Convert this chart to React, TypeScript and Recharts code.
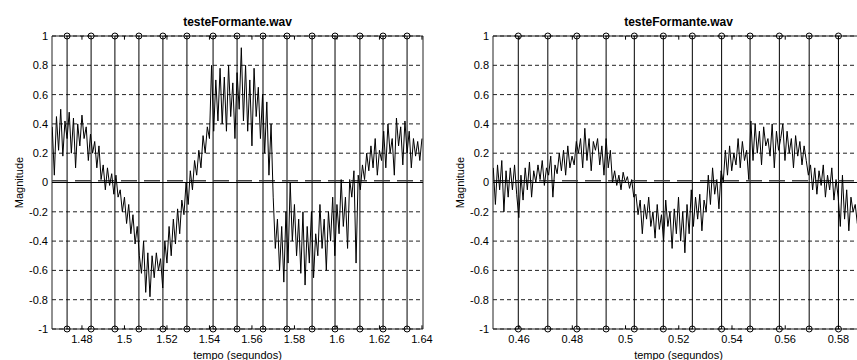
import React from 'react';
import {
  ComposedChart,
  Line,
  Scatter,
  XAxis,
  YAxis,
  CartesianGrid,
  ReferenceLine,
  ReferenceArea,
} from 'recharts';

// left panel: 1.466 s onwards, one sample per ms
const leftStart = 1.466;
const leftStep = 0.001;
const leftValues = [
  0.38, 0.05, 0.45, 0.22, 0.5, 0.18, 0.42, 0.3,
  0.48, 0.2, 0.44, 0.1, 0.4, 0.25, 0.46,
  0.3, 0.38, 0.15, 0.33, 0.2, 0.28, 0.1, 0.25,
  0.02, 0.12, -0.05, 0.1, -0.02, 0.06, -0.08, 0.05, -0.1,
  -0.05, -0.2, -0.1, -0.28, -0.15, -0.35, -0.22, -0.42, -0.3,
  -0.5, -0.62, -0.4, -0.75, -0.48, -0.78,
  -0.5, -0.65, -0.48, -0.6, -0.52, -0.72,
  -0.4, -0.55, -0.3, -0.5, -0.25, -0.42, -0.18, -0.35, -0.12, -0.22, 0.0, -0.15,
  0.08, -0.05, 0.15, 0.05, 0.22, 0.1, 0.32, 0.2, 0.38,
  0.3, 0.8, 0.35, 0.7, 0.42,
  0.78, 0.4, 0.72, 0.35, 0.8, 0.45, 0.68, 0.3, 0.75, 0.5, 0.92,
  0.42, 0.8, 0.35, 0.7, 0.25, 0.78, 0.45, 0.65, 0.3,
  0.6, 0.2, 0.55, 0.05, 0.4,
  -0.1, -0.45, -0.25,
  -0.6, -0.3, -0.68, -0.2, -0.55, 0.0,
  -0.4, -0.15, -0.5, -0.25, -0.62, -0.2,
  -0.7, -0.3, -0.55, -0.2, -0.65, -0.35,
  -0.5, -0.15, -0.45, -0.25, -0.6, -0.2, -0.4, -0.1, -0.5,
  -0.15, -0.35, 0.02, -0.3, -0.1, -0.45,
  0.02, -0.1, 0.08, -0.55, 0.05, -0.05, 0.12,
  0.02, 0.2, 0.08, 0.25, 0.1, 0.3, 0.05, 0.22, 0.15,
  0.35, 0.1, 0.4, 0.2, 0.3, 0.05, 0.44, 0.25, 0.38, 0.12, 0.42, 0.2,
  0.35, 0.1, 0.3, 0.18, 0.28, 0.15, 0.3,
];
const leftStems = [
  1.473, 1.4843, 1.4955, 1.5068, 1.5181, 1.5294, 1.5417, 1.553,
  1.5652, 1.5765, 1.5883, 1.5991, 1.6108, 1.6217, 1.633,
];
const leftTicks = [1.48, 1.5, 1.52, 1.54, 1.56, 1.58, 1.6, 1.62, 1.64];
const leftDomain = [1.4659, 1.6405];

// right panel
const rightStart = 0.4503;
const rightStep = 0.0008;
const rightValues = [
  0.1, -0.15, 0.12, -0.05, 0.15, -0.2, 0.08, -0.1, 0.1,
  -0.05, 0.12, -0.08, -0.24, 0.05, -0.12, 0.1, -0.05, 0.14, -0.1, 0.08,
  0.0, 0.12, 0.02, 0.15, -0.02, 0.1, 0.05, 0.18, -0.1, 0.12, 0.06,
  0.2, 0.08, 0.22, 0.05, 0.25, 0.1, 0.18, 0.12, 0.28,
  0.2, 0.3, 0.1, 0.37, 0.15, 0.3, 0.08, 0.28, 0.22,
  0.3, 0.12, 0.25, 0.05, 0.3, 0.1, 0.22, 0.0,
  0.08, -0.02, 0.05, -0.05, 0.07, 0.0, 0.04, -0.04, 0.02, -0.1,
  -0.08, -0.22, -0.12, -0.35, -0.15, -0.25, -0.1, -0.3,
  -0.2, -0.38, -0.15, -0.32, -0.22, -0.4, -0.12, -0.3, -0.2, -0.45, -0.18, -0.35, -0.1, -0.4,
  -0.2, -0.48, -0.15, -0.35,
  -0.05, -0.3, -0.1, -0.25, -0.08, -0.33, -0.12, -0.2,
  0.05, -0.15, 0.1, -0.08, 0.02, -0.18, 0.08,
  0.0, 0.22, 0.05, 0.25, 0.08, 0.2, 0.12, 0.3, 0.1, 0.28, 0.15, 0.22, 0.02,
  0.42, 0.15, 0.4, 0.2, 0.35, 0.12, 0.38, 0.25, 0.3, 0.18, 0.4, 0.1, 0.35, 0.22,
  0.3, 0.4, 0.15, 0.35, 0.2, 0.3, 0.1, 0.32, 0.18, 0.28, 0.12, 0.25, 0.15,
  0.05, 0.12, -0.05, 0.1, -0.08, 0.08, -0.02, 0.12, -0.1, 0.05, -0.05, 0.1, -0.12, 0.02,
  -0.1, -0.3, 0.05, -0.25, -0.05, -0.33, -0.1, -0.2, -0.15, -0.28, -0.12, -0.18, -0.1,
];
const rightStems = [
  0.4597, 0.4708, 0.4817, 0.4927, 0.5033, 0.5142,
  0.5251, 0.5361, 0.5468, 0.5578, 0.569, 0.58,
];
const rightTicks = [0.46, 0.48, 0.5, 0.52, 0.54, 0.56, 0.58];
const rightDomain = [0.4502, 0.5896];

const yTicks = [-1, -0.8, -0.6, -0.4, -0.2, 0, 0.2, 0.4, 0.6, 0.8, 1];

const FONT = '"Liberation Sans", Arial, sans-serif';

const StemHead = (props: any) => (
  <circle cx={props.cx} cy={props.cy} r={3} fill="none" stroke="#000" strokeWidth={1} />
);

interface PanelProps {
  left: number;
  start: number;
  step: number;
  values: number[];
  stems: number[];
  ticks: number[];
  domain: number[];
}

function Panel({ left, start, step, values, stems, ticks, domain }: PanelProps) {
  const wave = values.map((v, i) => ({ t: start + i * step, v }));
  const heads = stems.flatMap((t) => [{ t, v: 1 }, { t, v: -1 }]);

  return (
    <div style={{ position: 'absolute', left, top: 0 }}>
      <div
        style={{
          position: 'absolute',
          left: 52,
          width: 371,
          top: 15,
          textAlign: 'center',
          fontFamily: FONT,
          fontWeight: 'bold',
          fontSize: 12,
          color: '#000',
        }}
      >
        testeFormante.wav
      </div>
      <ComposedChart
        width={440}
        height={360}
        margin={{ top: 36, right: 17, bottom: 0, left: 0 }}
        style={{ fontFamily: FONT }}
      >
        <CartesianGrid
          vertical={false}
          stroke="#222"
          strokeDasharray="4 3"
        />
        <XAxis
          dataKey="t"
          type="number"
          domain={domain}
          allowDataOverflow
          ticks={ticks}
          interval={0}
          height={31}
          axisLine={false}
          tickLine={false}
          tickSize={0}
          tickMargin={6}
          tick={{ fill: '#000', fontSize: 11, fontFamily: FONT }}
          tickFormatter={(v: number) => String(v)}
          label={{
            value: 'tempo (segundos)',
            position: 'insideBottom',
            offset: 1,
            fill: '#000',
            fontSize: 11,
            fontFamily: FONT,
          }}
        />
        <YAxis
          type="number"
          domain={[-1, 1]}
          ticks={yTicks}
          interval={0}
          width={52}
          axisLine={false}
          tickLine={false}
          tickSize={0}
          tickMargin={4}
          tick={{ fill: '#000', fontSize: 11, fontFamily: FONT }}
          tickFormatter={(v: number) => String(v)}
          label={{
            value: 'Magnitude',
            angle: -90,
            position: 'insideLeft',
            offset: 19,
            fill: '#000',
            fontSize: 11,
            fontFamily: FONT,
            style: { textAnchor: 'middle' },
          }}
        />
        {stems.map((t) => (
          <ReferenceLine key={'s' + t} x={t} stroke="#000" strokeWidth={1} />
        ))}
        {ticks.map((t) => (
          <ReferenceLine
            key={'tb' + t}
            segment={[{ x: t, y: -1 }, { x: t, y: -0.975 }]}
            stroke="#000"
          />
        ))}
        {ticks.map((t) => (
          <ReferenceLine
            key={'tt' + t}
            segment={[{ x: t, y: 1 }, { x: t, y: 0.975 }]}
            stroke="#000"
          />
        ))}
        <ReferenceLine y={0} stroke="#000" strokeWidth={1} />
        <ReferenceLine y={0.012} stroke="#444" strokeWidth={1.5} strokeDasharray="16 7" />
        <Line
          data={wave}
          dataKey="v"
          stroke="#000"
          strokeWidth={1}
          dot={false}
          isAnimationActive={false}
        />
        <Scatter
          data={heads}
          dataKey="v"
          shape={<StemHead />}
          isAnimationActive={false}
        />
        <ReferenceArea
          x1={domain[0]}
          x2={domain[1]}
          y1={-1}
          y2={1}
          fill="none"
          stroke="#222"
          strokeWidth={1}
        />
      </ComposedChart>
    </div>
  );
}

export default function App() {
  return (
    <div
      style={{
        position: 'absolute',
        left: 0,
        top: 0,
        width: 857,
        height: 360,
        overflow: 'hidden',
        background: '#fff',
      }}
    >
      <Panel
        left={0}
        start={leftStart}
        step={leftStep}
        values={leftValues}
        stems={leftStems}
        ticks={leftTicks}
        domain={leftDomain}
      />
      <Panel
        left={441}
        start={rightStart}
        step={rightStep}
        values={rightValues}
        stems={rightStems}
        ticks={rightTicks}
        domain={rightDomain}
      />
    </div>
  );
}
